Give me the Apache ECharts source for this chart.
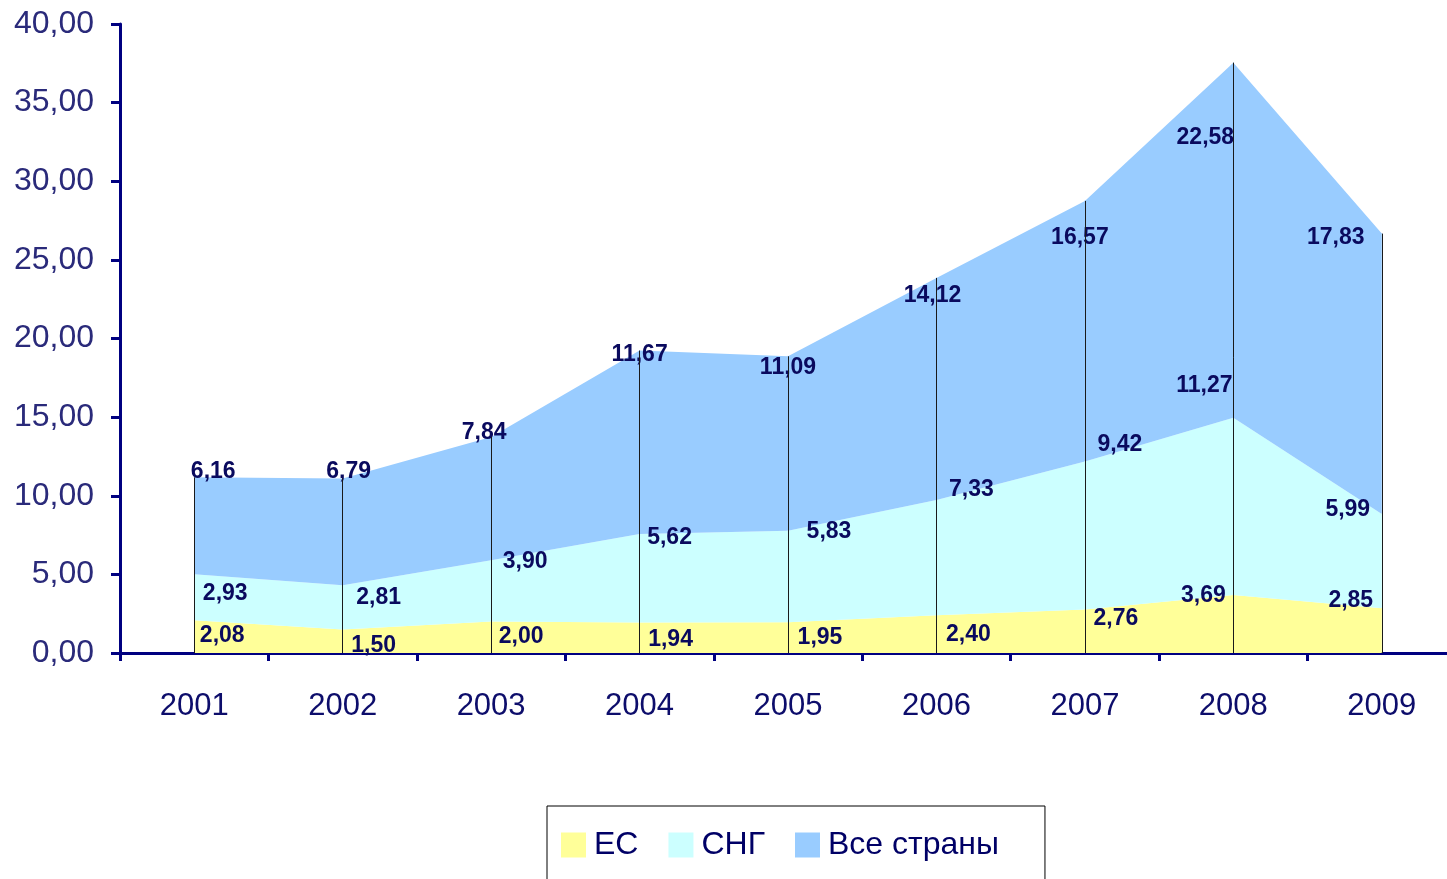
<!DOCTYPE html>
<html>
<head>
<meta charset="utf-8">
<script src="https://cdn.jsdelivr.net/npm/echarts@6/dist/echarts.min.js"></script>
<style>
html,body{margin:0;padding:0;background:#fff;}
#chart{width:1447px;height:879px;}
</style>
</head>
<body>
<div id="chart"></div>
<script>
// ---- data ----
const years = ['2001','2002','2003','2004','2005','2006','2007','2008','2009'];
const seriesNames = ['ЕС','СНГ','Все страны'];
const esValues  = [2.08, 1.50, 2.00, 1.94, 1.95, 2.40, 2.76, 3.69, 2.85];
const cisValues = [2.93, 2.81, 3.90, 5.62, 5.83, 7.33, 9.42, 11.27, 5.99];
const allValues = [6.16, 6.79, 7.84, 11.67, 11.09, 14.12, 16.57, 22.58, 17.83];
const yTicks = [0, 5, 10, 15, 20, 25, 30, 35, 40];

// ---- label placement (style, pixel offsets from each point) ----
const esLabelOffsets  = [[28,15],[31,16],[30,15],[31,17],[32,15],[32,19],[31,9],[-30,1],[-31,-8]];
const cisLabelOffsets = [[31,19],[36,12],[34,1],[30,4],[41,1],[35,-10],[35,-17],[-29,-32],[-34,-4]];
const allLabelOffsets = [[19,-6],[6,-7],[-7,-4],[0,4],[0,11],[-4,18],[-5,37],[-28,75],[-46,4]];

const colors = ['#ffff99', '#ccffff', '#99ccff'];
const fmt = v => v.toFixed(2).replace('.', ',');

const labelFont = {
  fontFamily: '"Liberation Sans", Arial, sans-serif',
  fontWeight: 'bold',
  fontSize: 23,
  color: '#0a0a5e'
};

function buildData(values, offsets) {
  return values.map((v, i) => ({
    value: v,
    label: { offset: offsets[i] }
  }));
}

function areaSeries(name, values, offsets, color) {
  return {
    name: name,
    type: 'line',
    stack: 'total',
    data: buildData(values, offsets),
    symbol: 'circle',
    symbolSize: 1,
    showSymbol: true,
    itemStyle: { color: color },
    lineStyle: { width: 0, color: color },
    areaStyle: { color: color, opacity: 1 },
    label: Object.assign({
      show: true,
      position: 'inside',
      align: 'center',
      verticalAlign: 'middle',
      formatter: p => fmt(p.value)
    }, labelFont),
    emphasis: { disabled: true },
    silent: true,
    animation: false
  };
}

const totals = years.map((y, i) => esValues[i] + cisValues[i] + allValues[i]);
const dropLines = years.map((y, i) => [
  { coord: [y, 0] },
  { coord: [y, totals[i]] }
]);

const chart = echarts.init(document.getElementById('chart'), null, { renderer: 'canvas' });
chart.setOption({
  animation: false,
  backgroundColor: '#ffffff',
  grid: { left: 120, top: 24, height: 629, width: 1336, containLabel: false, outerBoundsMode: 'none' },
  legend: {
    data: seriesNames,
    left: 547,
    top: 806,
    orient: 'horizontal',
    icon: 'rect',
    itemWidth: 25,
    itemHeight: 25,
    itemGap: 30,
    borderColor: '#000000',
    borderWidth: 1,
    borderRadius: 0,
    padding: [23, 46, 20, 14],
    textStyle: { fontFamily: '"Liberation Sans", Arial, sans-serif', fontSize: 32, color: '#000066', padding: [0, 0, 0, 3] },
    selectedMode: false
  },
  xAxis: {
    type: 'category',
    data: years,
    boundaryGap: true,
    axisLine: { show: true, lineStyle: { color: '#000080', width: 3 } },
    axisTick: { show: true, interval: 0, length: 8, inside: false, lineStyle: { color: '#000080', width: 3 } },
    axisLabel: {
      interval: 0,
      margin: 38,
      fontFamily: '"Liberation Sans", Arial, sans-serif',
      fontSize: 31,
      color: '#0d0d6b'
    },
    splitLine: { show: false }
  },
  yAxis: {
    type: 'value',
    min: yTicks[0],
    max: yTicks[yTicks.length - 1],
    interval: yTicks[1] - yTicks[0],
    axisLine: { show: true, lineStyle: { color: '#000080', width: 3 } },
    axisTick: { show: true, length: 9, lineStyle: { color: '#000080', width: 3 } },
    axisLabel: {
      margin: 26,
      fontFamily: '"Liberation Sans", Arial, sans-serif',
      fontSize: 32,
      color: '#2a2a7a',
      formatter: v => fmt(v)
    },
    splitLine: { show: false }
  },
  series: [
    areaSeries(seriesNames[0], esValues, esLabelOffsets, colors[0]),
    areaSeries(seriesNames[1], cisValues, cisLabelOffsets, colors[1]),
    areaSeries(seriesNames[2], allValues, allLabelOffsets, colors[2]),
    {
      name: 'dropLines',
      type: 'line',
      data: [],
      z: 3,
      silent: true,
      markLine: {
        silent: true,
        symbol: ['none', 'none'],
        label: { show: false },
        lineStyle: { color: '#1a1a1a', width: 1, type: 'solid' },
        emphasis: { disabled: true },
        data: dropLines,
        animation: false
      }
    }
  ]
});
</script>
</body>
</html>
